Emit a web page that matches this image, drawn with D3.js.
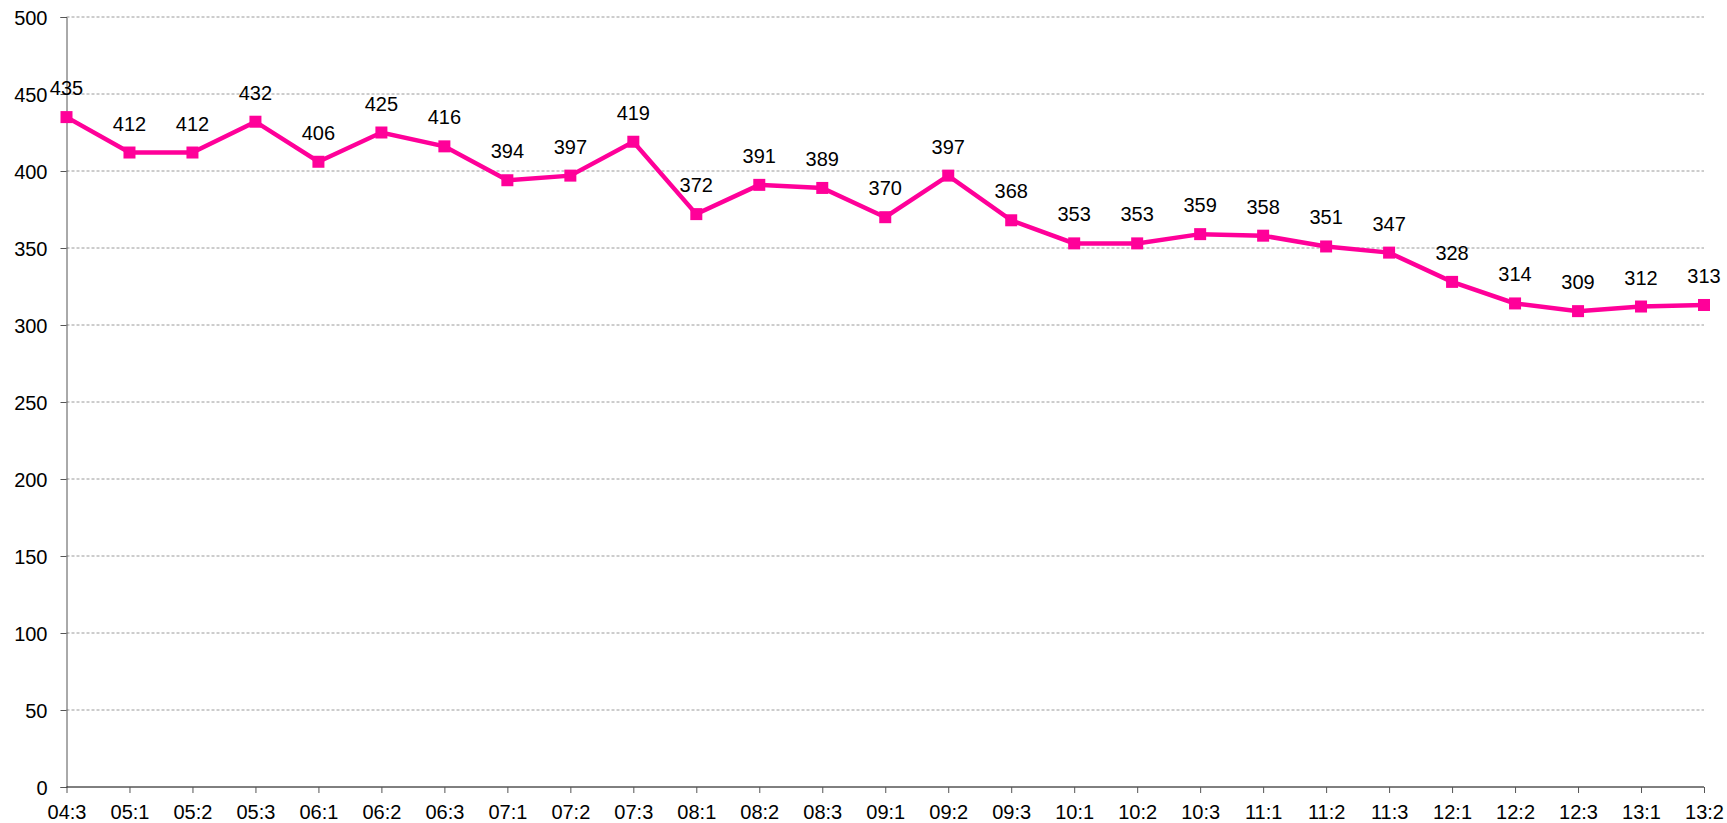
<!DOCTYPE html>
<html>
<head>
<meta charset="utf-8">
<script src="https://d3js.org/d3.v7.min.js"></script>
<style>
  body { margin: 0; background: #fff; }
  svg text { font-family: "Liberation Sans", Arial, sans-serif; font-size: 20px; fill: #000; }
</style>
</head>
<body>
<div id="chart"></div>
<script>
// quarters (year:quarter)
var categories = ["04:3","05:1","05:2","05:3","06:1","06:2","06:3","07:1","07:2","07:3",
                  "08:1","08:2","08:3","09:1","09:2","09:3","10:1","10:2","10:3",
                  "11:1","11:2","11:3","12:1","12:2","12:3","13:1","13:2"];
var values = [435,412,412,432,406,425,416,394,397,419,
              372,391,389,370,397,368,353,353,359,
              358,351,347,328,314,309,312,313];
var yTicks = [0,50,100,150,200,250,300,350,400,450,500];

var width = 1727, height = 823;
var margin = {top: 17, right: 23, bottom: 36, left: 66.5};

var svg = d3.select("#chart").append("svg")
  .attr("width", width)
  .attr("height", height);

var x = d3.scalePoint()
  .domain(categories)
  .range([margin.left, width - margin.right]);

var y = d3.scaleLinear()
  .domain([0, 500])
  .range([height - margin.bottom, margin.top]);

// gridlines
svg.append("g").selectAll("line")
  .data(yTicks.filter(function(d) { return d > 0; }))
  .enter().append("line")
  .attr("x1", margin.left)
  .attr("x2", width - margin.right)
  .attr("y1", function(d) { return y(d); })
  .attr("y2", function(d) { return y(d); })
  .attr("stroke", "#9a9a9a")
  .attr("stroke-width", 1)
  .attr("stroke-dasharray", "3,2");

// y axis
var yAxis = svg.append("g")
  .attr("transform", "translate(" + margin.left + ",0)")
  .call(d3.axisLeft(y).tickValues(yTicks).tickSize(6).tickPadding(13));
yAxis.select(".domain").attr("stroke", "#555");
yAxis.selectAll(".tick line").attr("stroke", "#555");
yAxis.selectAll("text").attr("font-size", null).attr("font-family", null).attr("dy", "0.36em");

// x axis
var xAxis = svg.append("g")
  .attr("transform", "translate(0," + (height - margin.bottom) + ")")
  .call(d3.axisBottom(x).tickSize(6).tickPadding(12));
xAxis.select(".domain").attr("stroke", "#000").attr("d", "M" + margin.left + ",0H" + (width - margin.right));
xAxis.selectAll(".tick line").attr("stroke", "#555");
xAxis.selectAll("text").attr("font-size", null).attr("font-family", null);

// line
var line = d3.line()
  .x(function(d, i) { return x(categories[i]); })
  .y(function(d) { return y(d); });

svg.append("path")
  .datum(values)
  .attr("fill", "none")
  .attr("stroke", "#ff0099")
  .attr("stroke-width", 4.5)
  .attr("d", line);

// markers
svg.append("g").selectAll("rect")
  .data(values)
  .enter().append("rect")
  .attr("x", function(d, i) { return x(categories[i]) - 6; })
  .attr("y", function(d) { return y(d) - 6; })
  .attr("width", 12)
  .attr("height", 12)
  .attr("fill", "#ff0099");

// data labels
svg.append("g").selectAll("text")
  .data(values)
  .enter().append("text")
  .attr("x", function(d, i) { return x(categories[i]); })
  .attr("y", function(d) { return y(d) - 22; })
  .attr("text-anchor", "middle")
  .text(function(d) { return d; });
</script>
</body>
</html>
